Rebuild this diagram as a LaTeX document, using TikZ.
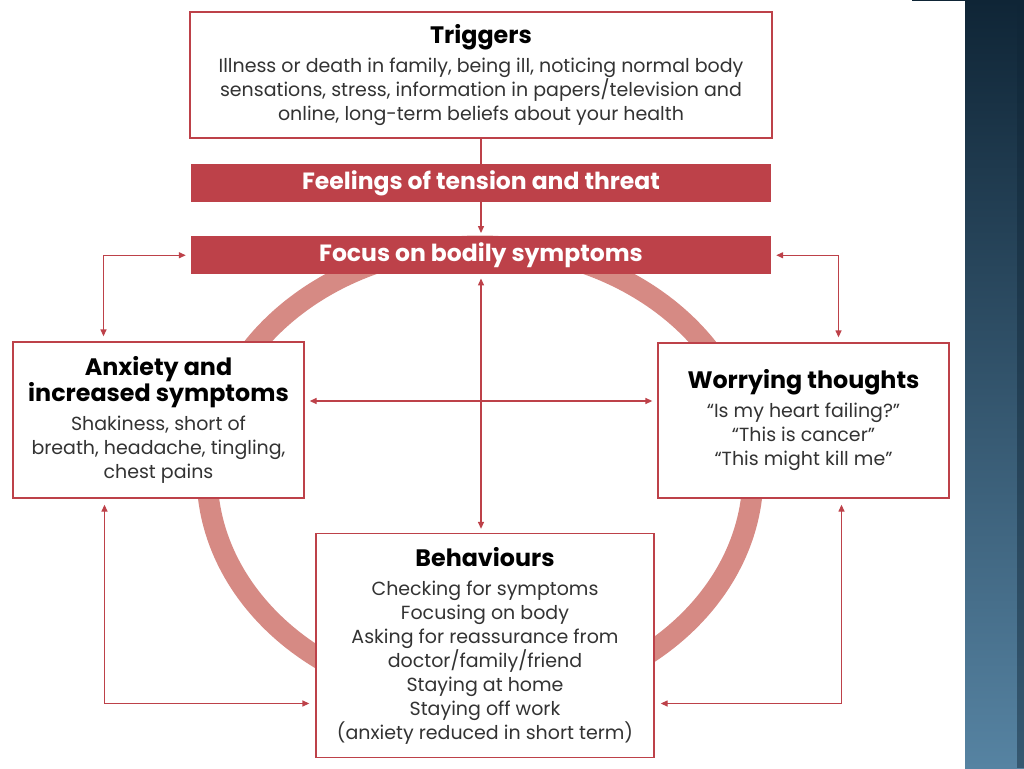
\documentclass[tikz,border=0pt]{standalone}
\usepackage{fontspec}
\setmainfont{Poppins}
\newfontfamily\headfont{Poppins}
\usetikzlibrary{arrows.meta, positioning}
\definecolor{cyclered}{HTML}{BD4149}
\definecolor{ringpink}{HTML}{D68A84}
\definecolor{bodygrey}{HTML}{333333}
\definecolor{panelnavy}{HTML}{0F2536}
\definecolor{panelsteel}{HTML}{5683A2}
\newcommand{\bodysize}{\fontsize{19}{24}\selectfont}
\newcommand{\boxhead}[1]{{\color{black}\headfont\bfseries\fontsize{23.8}{23}\selectfont #1}}
\tikzset{
  % white boxes with red outline
  cyclebox/.style={
    rectangle, draw=cyclered, fill=white, line width=1.3pt,
    inner sep=0pt, align=center, text=bodygrey, font=\bodysize,
  },
  % filled red bars
  cyclebar/.style={
    rectangle, fill=cyclered, minimum width=580pt, minimum height=38pt,
    inner sep=0pt, text=white, font=\headfont\bfseries\fontsize{23.5}{24}\selectfont,
  },
  % connectors
  link/.style={draw=cyclered, line width=1.3pt},
  oneway/.style={link, -{Triangle[length=7pt,width=6pt]}, shorten >=#1},
  oneway/.default={3pt},
  twoway/.style={link, {Triangle[length=7pt,width=6pt]}-{Triangle[length=7pt,width=6pt]},
    shorten <=#1, shorten >=#1},
  twoway/.default={5pt},
}

\begin{document}
\begin{tikzpicture}[x=1pt, y=-1pt]
  \useasboundingbox (0,0) rectangle (1024,768);

  % slide side panel
  \shade[top color=panelnavy, bottom color=panelsteel] (965,0) rectangle (1024,768);
  \fill[panelnavy, opacity=0.45] (1017,0) rectangle (1024,768);
  \fill[panelnavy] (912,0) rectangle (965,1.5);

  % the cycle ring behind the boxes
  \draw[ringpink, line width=21pt] (480,474) ellipse [x radius=273pt, y radius=228pt];

  % boxes
  \node[cyclebox, minimum width=582pt, minimum height=126pt] (triggers) at (481,75) {
    \boxhead{Triggers}\\[5pt]
    Illness or death in family, being ill, noticing normal body\\
    sensations, stress, information in papers/television and\\
    online, long-term beliefs about your health
  };
  \node[cyclebar, below=25pt of triggers] (feelings) {Feelings of tension and threat};
  \node[cyclebar, below=34pt of feelings] (focus) {Focus on bodily symptoms};

  \node[cyclebox, minimum width=291pt, minimum height=156pt] (anxiety) at (158.5,420) {
    \boxhead{Anxiety and}\\
    \boxhead{increased symptoms}\\[5pt]
    Shakiness, short of\\
    breath, headache, tingling,\\
    chest pains
  };
  \node[cyclebox, minimum width=291pt, minimum height=155pt] (worrying) at (803.5,420.5) {
    \boxhead{Worrying thoughts}\\[5pt]
    “Is my heart failing?”\\
    “This is cancer”\\
    “This might kill me”
  };
  \node[cyclebox, minimum width=338pt, minimum height=224pt] (behaviours) at (485,645.5) {
    \boxhead{Behaviours}\\[5pt]
    Checking for symptoms\\
    Focusing on body\\
    Asking for reassurance from\\
    doctor/family/friend\\
    Staying at home\\
    Staying off work\\
    (anxiety reduced in short term)
  };

  % arrows
  \draw[link] (triggers.south) -- (feelings.north);
  \draw[oneway] (feelings.south) -- (focus.north);
  \draw[twoway=4pt] (focus.south) -- (focus.south |- behaviours.north);
  \draw[twoway] ([yshift=19pt]anxiety.east) -- ([yshift=19pt]anxiety.east -| worrying.west);
  \draw[twoway] (focus.west) -| ([xshift=-55pt]anxiety.north);
  \draw[twoway] (focus.east) -| ([xshift=35pt]worrying.north);
  \draw[twoway=6pt] ([xshift=-54pt]anxiety.south) |- ([yshift=-58pt]behaviours.west);
  \draw[twoway=6pt] ([xshift=38pt]worrying.south) |- ([yshift=-58pt]behaviours.east);

\end{tikzpicture}
\end{document}
